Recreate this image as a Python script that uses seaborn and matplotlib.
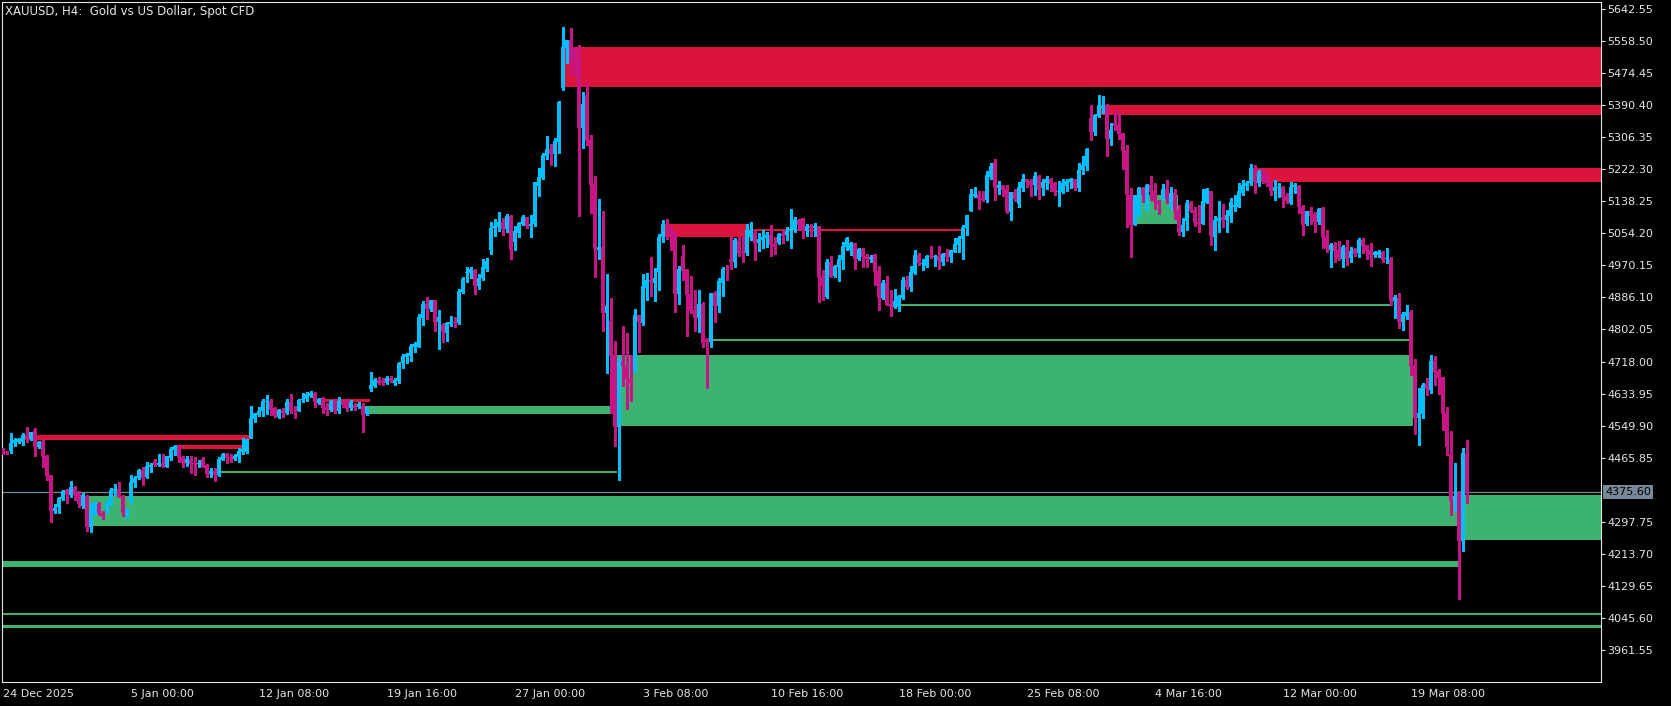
import numpy as np
import matplotlib
matplotlib.use('Agg')
import matplotlib.pyplot as plt
from matplotlib import transforms
import seaborn as sns

# XAUUSD H4 candles, 24 Dec 2025 -> 20 Mar 2026
opens = [
    4488, 4482, 4483, 4504, 4508, 4508, 4525, 4514, 4538, 4495,
    4508, 4470, 4420, 4327, 4336, 4357, 4381, 4368, 4390, 4372,
    4339, 4365, 4285, 4320, 4344, 4322, 4324, 4344, 4379, 4384,
    4365, 4322, 4355, 4400, 4412, 4434, 4416, 4441, 4456, 4447,
    4451, 4442, 4464, 4486, 4497, 4467, 4451, 4463, 4453, 4449,
    4463, 4447, 4423, 4432, 4420, 4460, 4476, 4467, 4463, 4468,
    4482, 4482, 4518, 4567, 4578, 4587, 4613, 4615, 4597, 4573,
    4591, 4584, 4612, 4591, 4589, 4617, 4619, 4628, 4635, 4610,
    4622, 4600, 4591, 4617, 4587, 4613, 4613, 4595, 4604, 4600,
    4602, 4580, 4645, 4654, 4670, 4668, 4661, 4676, 4663, 4668,
    4713, 4731, 4733, 4757, 4757, 4833, 4869, 4856, 4879, 4823,
    4814, 4794, 4816, 4823, 4818, 4901, 4949, 4949, 4958, 4916,
    4936, 4962, 5011, 5069, 5072, 5083, 5066, 5100, 5032, 5056,
    5079, 5096, 5074, 5079, 5178, 5200, 5257, 5275, 5262, 5294,
    5436, 5541, 5561, 5539, 5509, 5331, 5417, 5299, 5184, 5010,
    5018, 4846, 4824, 4735, 4547, 4719, 4706, 4672, 4694, 4840,
    4820, 4912, 4932, 4925, 4954, 5044, 5055, 5063, 5054, 4895,
    4995, 4960, 4895, 4853, 4831, 4869, 4776, 4770, 4897, 4864,
    4925, 4962, 4986, 4980, 5035, 5009, 5003, 5044, 5054, 5030,
    5037, 5043, 5050, 5026, 5030, 5052, 5050, 5060, 5063, 5089,
    5094, 5060, 5074, 5069, 5074, 4941, 4886, 4980, 4942, 4965,
    4984, 5018, 5011, 5028, 4987, 5013, 4995, 4987, 4999, 4955,
    4885, 4925, 4869, 4860, 4860, 4885, 4932, 4914, 4949, 4997,
    4973, 4969, 4995, 4993, 4996, 4980, 5002, 4991, 5006, 5024,
    5039, 5069, 5113, 5153, 5157, 5148, 5142, 5203, 5242, 5174,
    5181, 5170, 5111, 5162, 5131, 5174, 5198, 5191, 5181, 5205,
    5174, 5185, 5197, 5185, 5163, 5163, 5178, 5190, 5197, 5174,
    5220, 5231, 5358, 5321, 5362, 5383, 5391, 5301, 5344, 5338,
    5317, 5273, 5155, 5076, 5102, 5174, 5115, 5181, 5165, 5140,
    5143, 5170, 5122, 5159, 5115, 5059, 5087, 5133, 5115, 5083,
    5080, 5135, 5164, 5045, 5087, 5098, 5089, 5100, 5124, 5124,
    5159, 5178, 5185, 5224, 5187, 5216, 5203, 5190, 5164, 5172,
    5177, 5152, 5133, 5175, 5178, 5122, 5079, 5113, 5104, 5085,
    5120, 5045, 5010, 5023, 5010, 4987, 5018, 4990, 5012, 5002,
    5038, 5024, 5010, 4997, 4997, 5004, 4986, 4987, 4878, 4885,
    4823, 4838, 4847, 4709, 4571, 4580, 4659, 4643, 4719, 4694,
    4677, 4582, 4476, 4351, 4372, 4248, 4477,
]
highs = [
    4491, 4483, 4530, 4517, 4518, 4530, 4547, 4534, 4545, 4510,
    4512, 4472, 4421, 4344, 4362, 4381, 4385, 4405, 4392, 4379,
    4372, 4368, 4346, 4350, 4350, 4327, 4353, 4386, 4397, 4402,
    4368, 4333, 4420, 4418, 4437, 4441, 4455, 4451, 4462, 4475,
    4475, 4470, 4495, 4498, 4499, 4469, 4469, 4469, 4467, 4460,
    4467, 4449, 4438, 4438, 4467, 4479, 4479, 4476, 4476, 4490,
    4517, 4514, 4601, 4584, 4598, 4619, 4630, 4619, 4600, 4593,
    4595, 4619, 4633, 4601, 4619, 4636, 4639, 4642, 4639, 4622,
    4624, 4608, 4617, 4621, 4624, 4617, 4619, 4617, 4608, 4613,
    4610, 4600, 4691, 4674, 4677, 4674, 4680, 4680, 4676, 4718,
    4738, 4740, 4763, 4768, 4843, 4877, 4886, 4879, 4879, 4853,
    4818, 4822, 4838, 4836, 4907, 4939, 4965, 4965, 4960, 4948,
    4987, 4989, 5083, 5091, 5109, 5094, 5105, 5102, 5073, 5085,
    5102, 5098, 5102, 5190, 5225, 5264, 5310, 5288, 5303, 5401,
    5596, 5561, 5594, 5544, 5548, 5426, 5448, 5312, 5205, 5144,
    5113, 4948, 4885, 4773, 4729, 4812, 4794, 4735, 4856, 4840,
    4948, 4951, 4993, 4964, 5052, 5089, 5092, 5072, 5059, 4968,
    5024, 4962, 4942, 4906, 4906, 4875, 4781, 4899, 4904, 4936,
    4967, 4971, 5044, 5041, 5044, 5044, 5079, 5085, 5063, 5054,
    5063, 5057, 5075, 5045, 5054, 5063, 5070, 5117, 5096, 5092,
    5094, 5079, 5079, 5082, 5074, 4958, 4987, 4995, 4972, 4997,
    5031, 5045, 5032, 5030, 5017, 5017, 5000, 4997, 5000, 4968,
    4932, 4942, 4906, 4907, 4893, 4941, 4942, 4968, 5010, 5002,
    4987, 4997, 5021, 4997, 5021, 5002, 5012, 5010, 5041, 5047,
    5076, 5102, 5170, 5175, 5164, 5165, 5219, 5238, 5249, 5192,
    5181, 5181, 5162, 5170, 5190, 5209, 5198, 5197, 5214, 5207,
    5197, 5205, 5200, 5190, 5192, 5198, 5198, 5200, 5197, 5238,
    5257, 5277, 5391, 5366, 5417, 5414, 5393, 5344, 5378, 5371,
    5317, 5286, 5174, 5155, 5177, 5177, 5184, 5205, 5185, 5142,
    5184, 5194, 5177, 5170, 5129, 5094, 5142, 5140, 5122, 5129,
    5170, 5174, 5166, 5100, 5139, 5131, 5115, 5146, 5155, 5185,
    5194, 5192, 5236, 5233, 5220, 5225, 5212, 5194, 5194, 5185,
    5178, 5159, 5188, 5187, 5181, 5129, 5113, 5124, 5111, 5120,
    5122, 5063, 5028, 5032, 5034, 5024, 5037, 5019, 5017, 5041,
    5043, 5024, 5028, 5008, 5010, 5008, 5015, 4993, 4892, 4897,
    4849, 4866, 4853, 4724, 4648, 4661, 4674, 4735, 4733, 4698,
    4677, 4600, 4536, 4451, 4379, 4490, 4512,
]
lows = [
    4476, 4475, 4479, 4497, 4505, 4499, 4508, 4512, 4469, 4492,
    4442, 4407, 4298, 4322, 4322, 4354, 4348, 4364, 4355, 4337,
    4333, 4274, 4272, 4316, 4316, 4304, 4322, 4342, 4368, 4362,
    4313, 4309, 4348, 4388, 4409, 4394, 4413, 4429, 4444, 4444,
    4442, 4441, 4461, 4473, 4455, 4441, 4444, 4427, 4420, 4441,
    4441, 4414, 4414, 4406, 4418, 4460, 4453, 4455, 4460, 4455,
    4476, 4479, 4517, 4560, 4575, 4576, 4580, 4578, 4572, 4571,
    4572, 4580, 4582, 4569, 4587, 4613, 4615, 4624, 4598, 4606,
    4582, 4578, 4587, 4582, 4582, 4600, 4589, 4591, 4591, 4595,
    4534, 4578, 4642, 4650, 4659, 4656, 4658, 4665, 4657, 4663,
    4702, 4713, 4720, 4744, 4755, 4814, 4830, 4851, 4799, 4751,
    4770, 4773, 4811, 4808, 4816, 4899, 4927, 4936, 4895, 4908,
    4932, 4955, 5000, 5048, 5061, 5050, 5057, 4987, 5010, 5045,
    5075, 5069, 5044, 5074, 5152, 5197, 5248, 5233, 5231, 5266,
    5430, 5502, 5469, 5469, 5100, 5279, 5286, 5108, 4941, 4987,
    4798, 4687, 4582, 4496, 4407, 4655, 4594, 4615, 4691, 4744,
    4814, 4879, 4890, 4877, 4906, 5032, 5039, 5011, 4849, 4869,
    4932, 4786, 4846, 4799, 4796, 4757, 4649, 4757, 4823, 4849,
    4890, 4932, 4962, 4967, 4996, 4980, 4997, 5038, 4984, 5009,
    5015, 5018, 4995, 5000, 5026, 5030, 5038, 5015, 5059, 5063,
    5043, 5047, 5046, 5046, 4875, 4879, 4884, 4939, 4941, 4929,
    4961, 5011, 4997, 4961, 4983, 4967, 4967, 4980, 4919, 4853,
    4882, 4866, 4838, 4859, 4851, 4882, 4908, 4904, 4947, 4971,
    4958, 4965, 4989, 4968, 4961, 4971, 4982, 4980, 5004, 5004,
    4987, 5050, 5113, 5150, 5118, 5140, 5137, 5196, 5142, 5157,
    5153, 5108, 5089, 5140, 5124, 5164, 5175, 5153, 5155, 5143,
    5155, 5170, 5165, 5155, 5126, 5159, 5164, 5172, 5168, 5166,
    5210, 5220, 5299, 5312, 5360, 5371, 5257, 5286, 5325, 5301,
    5223, 5072, 4993, 5076, 5100, 5137, 5114, 5142, 5117, 5105,
    5142, 5135, 5118, 5091, 5050, 5048, 5063, 5111, 5073, 5059,
    5079, 5133, 5024, 5010, 5059, 5072, 5058, 5085, 5114, 5122,
    5155, 5168, 5181, 5159, 5178, 5185, 5178, 5155, 5142, 5150,
    5122, 5135, 5131, 5161, 5107, 5050, 5076, 5079, 5059, 5079,
    5017, 5006, 4965, 4980, 4984, 4967, 4971, 4980, 4995, 4991,
    5002, 4987, 4969, 4991, 4991, 4980, 4976, 4866, 4831, 4805,
    4801, 4830, 4683, 4528, 4499, 4571, 4630, 4635, 4656, 4633,
    4538, 4473, 4316, 4327, 4095, 4222, 4348,
]
closes = [
    4479, 4477, 4505, 4511, 4514, 4525, 4519, 4532, 4495, 4508,
    4468, 4418, 4327, 4333, 4359, 4378, 4368, 4390, 4368, 4344,
    4368, 4285, 4324, 4346, 4320, 4311, 4348, 4381, 4385, 4364,
    4322, 4330, 4403, 4413, 4434, 4412, 4444, 4447, 4447, 4453,
    4444, 4469, 4489, 4497, 4464, 4451, 4463, 4449, 4449, 4453,
    4442, 4423, 4432, 4420, 4463, 4476, 4464, 4464, 4470, 4484,
    4488, 4511, 4571, 4582, 4588, 4615, 4615, 4591, 4575, 4591,
    4582, 4612, 4587, 4587, 4617, 4621, 4632, 4636, 4613, 4620,
    4595, 4591, 4615, 4587, 4615, 4604, 4595, 4612, 4595, 4607,
    4578, 4595, 4656, 4670, 4663, 4661, 4674, 4667, 4670, 4715,
    4733, 4737, 4760, 4763, 4836, 4869, 4855, 4879, 4823, 4836,
    4796, 4820, 4823, 4820, 4904, 4934, 4954, 4961, 4916, 4936,
    4965, 4982, 5067, 5074, 5083, 5066, 5100, 5011, 5061, 5082,
    5098, 5073, 5079, 5190, 5203, 5260, 5275, 5262, 5297, 5399,
    5543, 5561, 5509, 5509, 5331, 5393, 5297, 5181, 5012, 5018,
    4846, 4864, 4732, 4547, 4720, 4705, 4672, 4663, 4840, 4823,
    4916, 4932, 4927, 4938, 5045, 5079, 5053, 5050, 4895, 4962,
    4956, 4892, 4851, 4831, 4869, 4767, 4770, 4897, 4864, 4929,
    4960, 4958, 4980, 5037, 5003, 5003, 5063, 5063, 5030, 5039,
    5045, 5050, 5024, 5019, 5052, 5048, 5060, 5066, 5089, 5076,
    5063, 5074, 5069, 5074, 4938, 4916, 4980, 4941, 4969, 4987,
    5022, 5041, 5030, 4987, 5013, 4993, 4987, 4993, 4954, 4885,
    4925, 4866, 4862, 4877, 4890, 4932, 4914, 4952, 4997, 4977,
    4977, 4995, 4991, 4996, 4982, 5000, 4993, 5010, 5026, 5041,
    5072, 5102, 5157, 5157, 5144, 5142, 5207, 5231, 5174, 5181,
    5168, 5109, 5162, 5143, 5175, 5198, 5190, 5181, 5205, 5168,
    5188, 5197, 5184, 5163, 5166, 5185, 5191, 5197, 5172, 5220,
    5233, 5275, 5321, 5365, 5391, 5388, 5302, 5325, 5336, 5315,
    5271, 5155, 5076, 5150, 5174, 5155, 5181, 5163, 5137, 5131,
    5170, 5144, 5159, 5114, 5059, 5076, 5133, 5114, 5082, 5080,
    5139, 5170, 5047, 5089, 5095, 5089, 5102, 5137, 5128, 5164,
    5181, 5187, 5226, 5212, 5216, 5203, 5185, 5164, 5175, 5177,
    5150, 5140, 5177, 5181, 5122, 5076, 5113, 5100, 5085, 5117,
    5043, 5015, 5023, 5008, 4987, 5018, 4987, 5008, 5000, 5038,
    5021, 5008, 4997, 5004, 5004, 4984, 4989, 4878, 4888, 4823,
    4842, 4849, 4707, 4571, 4582, 4656, 4645, 4719, 4691, 4676,
    4580, 4495, 4351, 4365, 4248, 4477, 4374,
]

date_labels = ["24 Dec 2025", "5 Jan 00:00", "12 Jan 08:00", "19 Jan 16:00",
               "27 Jan 00:00", "3 Feb 08:00", "10 Feb 16:00", "18 Feb 00:00",
               "25 Feb 08:00", "4 Mar 16:00", "12 Mar 00:00", "19 Mar 08:00"]
date_bars = [0, 32, 64, 96, 128, 160, 192, 224, 256, 288, 320, 352]

price_ticks = [5642.55, 5558.50, 5474.45, 5390.40, 5306.35, 5222.30, 5138.25,
               5054.20, 4970.15, 4886.10, 4802.05, 4718.00, 4633.95, 4549.90,
               4465.85, 4297.75, 4213.70, 4129.65, 4045.60, 3961.55]
last_price = 4375.60

# supply zones (start bar, end bar, low, high); None = runs to the right edge
supply_start = [5.1, 43.5, 79.4, 140.2, 165.2, 186.0, 274.4, 312.3]
supply_end = [61.9, 60.0, 91.9, None, 186.0, 239.8, None, None]
supply_low = [4512, 4489, 4612, 5439, 5045, 5060, 5365, 5188]
supply_high = [4525, 4498, 4620, 5543, 5079, 5066, 5391, 5226]

# demand zones
demand_start = [21.2, -1, -1, -1, 90.6, 53.9, 153.1, 177.0, 223.5, 281.9, 365.1]
demand_end = [363.7, 363.8, None, None, 152.6, 153.6, 352.6, 351.6, 347.6, 293.8, None]
demand_low = [4287, 4180, 4053, 4020, 4580, 4427, 4550, 4773, 4864, 5079, 4251]
demand_high = [4365, 4195, 4059, 4026, 4601, 4431, 4735, 4776, 4869, 5155, 4368]

FG = "#E6E6E6"
BULL = "#00BFFF"
BEAR = "#C71585"
SUPPLY = "#DC143C"
DEMAND = "#3CB371"
PRICE_LINE = "#778899"

sns.set_theme(style="dark", rc={
    "figure.facecolor": "black",
    "axes.facecolor": "black",
    "axes.edgecolor": FG,
    "axes.linewidth": 0.8,
    "axes.grid": False,
    "text.color": FG,
    "xtick.color": FG,
    "ytick.color": FG,
})
plt.rcParams['font.family'] = ['DejaVu Sans']

assert len(opens) == len(highs) == len(lows) == len(closes)

fig = plt.figure(figsize=(16.71, 7.06), dpi=100)
ax = fig.add_axes([2 / 1671, 24 / 706, 1599 / 1671, 680 / 706])
x_right = 399.6
ax.set_xlim(-0.125, x_right)
ax.set_ylim(3877.6, 5660.9)

# zones sit behind the candles, drawn crisp like the terminal does
for s, e, lo, hi in zip(supply_start, supply_end, supply_low, supply_high):
    ax.fill_between([s, x_right if e is None else e], lo, hi, color=SUPPLY,
                    lw=0, zorder=1, antialiased=False)
for s, e, lo, hi in zip(demand_start, demand_end, demand_low, demand_high):
    ax.fill_between([s, x_right if e is None else e], lo, hi, color=DEMAND,
                    lw=0, zorder=1, antialiased=False)

ax.axhline(last_price, color=PRICE_LINE, lw=0.9, zorder=2)

o = np.array(opens, dtype=float)
h = np.array(highs, dtype=float)
l = np.array(lows, dtype=float)
c = np.array(closes, dtype=float)
xs = np.arange(len(c))
cols = np.where(c >= o, BULL, BEAR)

ax.vlines(xs, l, h, colors=cols, lw=0.8, zorder=3, antialiased=False)
body = np.maximum(np.abs(c - o), 2.0)
ax.bar(xs, body, bottom=np.minimum(o, c), width=0.75, color=cols, lw=0,
       zorder=4, antialiased=False)

ax.yaxis.tick_right()
ax.set_yticks(price_ticks)
ax.set_yticklabels([f"{p:.2f}" for p in price_ticks])
ax.tick_params(axis='y', direction='out', length=3, width=0.8, pad=1.5,
               labelsize=8, colors=FG, left=False, right=True)
ax.set_xticks(date_bars)
ax.set_xticklabels(date_labels, ha='left')
ax.tick_params(axis='x', direction='out', length=4, width=0.8, pad=1,
               labelsize=8, colors=FG)
for sp in ax.spines.values():
    sp.set_color(FG)
    sp.set_linewidth(0.8)

ax.text(3 / 1599, 1 - 10 / 680, "XAUUSD, H4:  Gold vs US Dollar, Spot CFD",
        transform=ax.transAxes, fontsize=8.5, color=FG, ha='left', va='center')

trans = transforms.blended_transform_factory(ax.transAxes, ax.transData)
ax.text(1 + 4 / 1599, last_price, f"{last_price:.2f}", transform=trans,
        fontsize=8, color="black", ha='left', va='center',
        bbox=dict(boxstyle="square,pad=0.2", fc=PRICE_LINE, ec="none"))

fig.savefig("out.png", dpi=100, facecolor="black")
